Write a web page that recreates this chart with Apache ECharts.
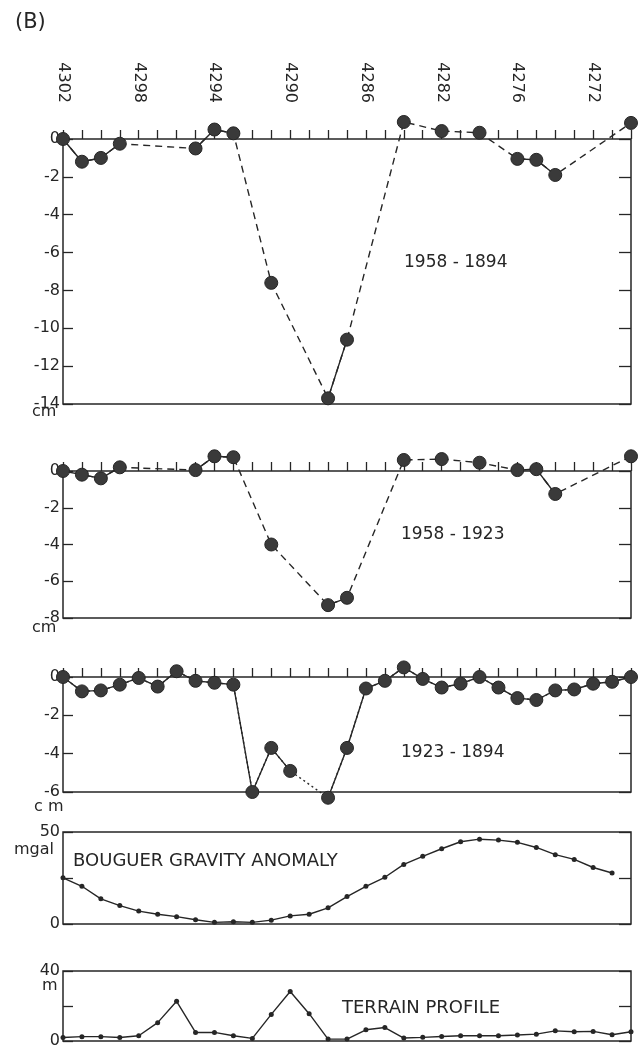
<!DOCTYPE html>
<html>
<head>
<meta charset="utf-8">
<script src="https://cdn.jsdelivr.net/npm/echarts@6/dist/echarts.min.js"></script>
<style>
html, body { margin: 0; padding: 0; background: #fff; }
#chart { width: 642px; height: 1053px; }
</style>
</head>
<body>
<div id="chart"></div>
<script>
// station numbers along the profile (only every 4th is printed)
var stations = ['4302','','','','4298','','','','4294','','','','4290','','','',
                '4286','','','','4282','','','','4276','','','','4272','',''];

// vertical movement, cm (null = not levelled in that survey)
var d1958_1894 = [0,-1.2,-1.0,-0.25,null,null,null,-0.5,0.5,0.3,null,-7.6,null,null,-13.7,-10.6,
                  null,null,0.9,null,0.42,null,0.33,null,-1.05,-1.1,-1.9,null,null,null,0.85];
var d1958_1923 = [0,-0.2,-0.4,0.2,null,null,null,0.05,0.8,0.75,null,-4.0,null,null,-7.3,-6.9,
                  null,null,0.6,null,0.65,null,0.45,null,0.05,0.1,-1.25,null,null,null,0.8];
var d1923_1894 = [0,-0.75,-0.7,-0.4,-0.05,-0.5,0.3,-0.2,-0.3,-0.4,-6.0,-3.7,-4.9,null,-6.3,-3.7,
                  -0.6,-0.2,0.5,-0.1,-0.55,-0.35,0,-0.55,-1.1,-1.2,-0.7,-0.65,-0.35,-0.25,0];

// bouguer gravity anomaly, mgal
var gravity = [25.1,20.5,13.7,10,7.0,5.3,4.0,2.3,0.9,1.2,0.9,2.1,4.4,5.3,8.8,14.9,
               20.5,25.4,32.4,36.8,40.9,44.7,46.1,45.6,44.4,41.6,37.7,35.1,30.7,27.7,null];

// terrain height, m
var terrain = [2,2.5,2.5,2,3,10.5,22.7,4.9,4.9,3,1.5,15.2,28.3,15.6,1.1,1.1,
               6.4,7.7,1.7,2.1,2.6,3,3,3,3.4,3.9,5.8,5.3,5.5,3.6,5.3];

var ink = '#262626';
var font = 'DejaVu Sans';

var myChart = echarts.init(document.getElementById('chart'));

var panels = [
    {top: 139, height: 265, min: -14, max: 0, step: 2, labels: true, ticks: true},
    {top: 471, height: 147, min: -8, max: 0, step: 2, ticks: true},
    {top: 677, height: 115, min: -6, max: 0, step: 2, ticks: true},
    {top: 832, height: 92, min: 0, max: 50, step: 25, ends: true},
    {top: 971, height: 70, min: 0, max: 40, step: 20, ends: true}
];

var grids = [], xAxes = [], yAxes = [], series = [];

panels.forEach(function(p, i) {
    grids.push({
        left: 63, right: 11, top: p.top, height: p.height,
        show: true, borderColor: ink, borderWidth: 1.5
    });
    xAxes.push({
        type: 'category', gridIndex: i, data: stations, boundaryGap: false,
        position: 'top',
        axisLine: {show: false, onZero: false},
        axisTick: {show: !!p.ticks, interval: 0, length: 9, inside: false,
                   lineStyle: {color: ink, width: 1.3}},
        axisLabel: {show: !!p.labels, interval: 0, rotate: 90, margin: 36,
                    color: ink, fontFamily: font, fontSize: 16},
        splitLine: {show: false}
    });
    yAxes.push({
        type: 'value', gridIndex: i, min: p.min, max: p.max, interval: p.step,
        position: 'left',
        axisLine: {show: false},
        axisTick: {show: true, inside: true, length: 10, lineStyle: {color: ink, width: 1.3}},
        axisLabel: {color: ink, fontFamily: font, fontSize: 16, margin: 3,
                    formatter: function(v) {
                        if (p.ends && v !== p.min && v !== p.max) return '';
                        return String(v);
                    }},
        splitLine: {show: false}
    });
    yAxes.push({
        type: 'value', gridIndex: i, min: p.min, max: p.max, interval: p.step,
        position: 'right',
        axisLine: {show: false},
        axisTick: {show: true, inside: true, length: 12, lineStyle: {color: ink, width: 1.3}},
        axisLabel: {show: false},
        splitLine: {show: false}
    });
});

// levelling panels: dashed across gaps, solid between neighbouring stations
[d1958_1894, d1958_1923, d1923_1894].forEach(function(d, i) {
    series.push({
        type: 'line', xAxisIndex: i, yAxisIndex: i * 2, data: d,
        connectNulls: true, showSymbol: false, symbol: 'none', clip: false, z: 1,
        lineStyle: {color: ink, width: 1.4, type: i === 2 ? [2, 3] : [7, 5]}
    });
    series.push({
        type: 'line', xAxisIndex: i, yAxisIndex: i * 2, data: d,
        connectNulls: false, symbol: 'circle', symbolSize: 13, clip: false, z: 3,
        showSymbol: true, showAllSymbol: true,
        lineStyle: {color: ink, width: 1.4},
        itemStyle: {color: '#3a3a3a', borderColor: ink, borderWidth: 1}
    });
});

series.push({
    type: 'line', xAxisIndex: 3, yAxisIndex: 6, data: gravity,
    symbol: 'circle', symbolSize: 5, clip: false, showAllSymbol: true,
    lineStyle: {color: ink, width: 1.4}, itemStyle: {color: ink}
});
series.push({
    type: 'line', xAxisIndex: 4, yAxisIndex: 8, data: terrain,
    symbol: 'circle', symbolSize: 5, clip: false, showAllSymbol: true,
    lineStyle: {color: ink, width: 1.4}, itemStyle: {color: ink}
});

function txt(x, y, s, size, align) {
    return {
        type: 'text', left: x, top: y,
        style: {text: s, fill: ink, font: size + 'px "' + font + '"',
                textAlign: align || 'left', textVerticalAlign: 'middle'}
    };
}

var option = {
    animation: false,
    backgroundColor: '#fff',
    grid: grids,
    xAxis: xAxes,
    yAxis: yAxes,
    series: series,
    graphic: [
        txt(15, 12, '(B)', 21),
        txt(404, 254, '1958 - 1894', 17),
        txt(401, 526, '1958 - 1923', 17),
        txt(401, 744, '1923 - 1894', 17),
        txt(73, 852, 'BOUGUER GRAVITY ANOMALY', 18),
        txt(342, 999, 'TERRAIN PROFILE', 18),
        txt(32, 404, 'cm', 16),
        txt(32, 620, 'cm', 16),
        txt(34, 799, 'c m', 16),
        txt(14, 842, 'mgal', 16),
        txt(42, 978, 'm', 16)
    ]
};

myChart.setOption(option);
</script>
</body>
</html>
